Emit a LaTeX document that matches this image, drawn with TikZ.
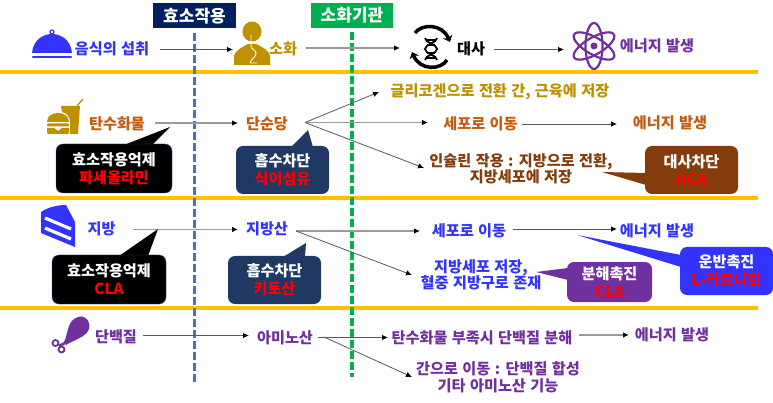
\documentclass[tikz,border=0pt]{standalone}
\usepackage{fontspec}
\usepackage{tikz}
\usetikzlibrary{arrows,arrows.meta}
\setmainfont{Noto Sans CJK KR}[WordSpace=1.25]
\definecolor{navybox}{HTML}{002060}
\definecolor{greenbox}{HTML}{00B050}
\definecolor{dashblue}{HTML}{4472C4}
\definecolor{ruleorange}{HTML}{FFC000}
\definecolor{textblue}{HTML}{3333FF}
\definecolor{textgold}{HTML}{BF9000}
\definecolor{textorange}{HTML}{C55A11}
\definecolor{textbrown}{HTML}{843C0C}
\definecolor{textpurple}{HTML}{7030A0}
\definecolor{notenavy}{HTML}{1F3864}
\definecolor{edgenavy}{HTML}{2F5597}

\begin{document}
\begin{tikzpicture}[x=1pt,y=-1pt]
	\useasboundingbox (0,0) rectangle (773,403);
	\tikzstyle{termtext}=[font=\bfseries\fontsize{15.2}{16.5}\selectfont,align=center,inner sep=0pt]
	\tikzstyle{header}=[font=\bfseries\fontsize{17}{18}\selectfont,text=white,inner sep=0pt,minimum height=25pt]
	\tikzstyle{note}=[font=\bfseries\fontsize{15.2}{18}\selectfont,text=white,align=center,rounded corners=7pt,inner sep=0pt]
	\tikzstyle{flow}=[draw=black!65,line width=0.8pt,-{Latex[length=6pt,width=5.5pt,black]}]
	\tikzstyle{flowlight}=[draw=black!40,line width=1.2pt,-{Latex[length=6pt,width=5.5pt,black]}]
	\tikzstyle{rule}=[draw=ruleorange,line width=3pt]
	\tikzstyle{ruleshade}=[draw=black!25,line width=1pt]

	%% Section rules
	\foreach \ypos/\rname in {72/ruleA,198/ruleB,307/ruleC}{
		\draw[ruleshade] (0,\ypos+2) -- (758,\ypos+2);
		\draw[rule] (0,\ypos) -- (758,\ypos);
	}

	%% Column headers and dashed lines
	\node[header,fill=navybox,minimum width=83pt] (enzyme) at (194.5,16) {효소작용};
	\node[header,fill=greenbox,minimum width=82pt] (organ) at (352,15.5) {소화기관};
	\coordinate (enzymeend) at (194.5,382);
	\coordinate (organend) at (352,377);
	\draw[dashblue,line width=3.2pt,dash pattern=on 8pt off 3pt] (194.5,33) -- (enzymeend);
	\draw[greenbox,line width=3.2pt,dash pattern=on 8pt off 3pt] (352,32) -- (organend);

	%% Row 1
	\node[termtext,text=textblue] (meal) at (112,49) {음식의 섭취};
	\node[termtext,text=textgold] (digest) at (283,49) {소화};
	\node[termtext,text=black] (metab) at (471,48.5) {대사};
	\node[termtext,text=textpurple] (energyA) at (657,46) {에너지 발생};
	\coordinate (mealout) at (160,49.5);
	\coordinate (bodyin) at (233,49.5);
	\coordinate (digestout) at (306,48);
	\coordinate (dnain) at (400,48);
	\coordinate (metabout) at (494,49.5);
	\coordinate (atomin) at (564,49.5);
	\draw[flow] (mealout) -- (bodyin);
	\draw[flowlight] (digestout) -- (dnain);
	\draw[flow] (metabout) -- (atomin);

	%% Row 2
	\node[termtext,text=textorange] (carb) at (117,124) {탄수화물};
	\node[termtext,text=textorange] (sugar) at (267,124) {단순당};
	\node[termtext,text=textgold] (glyco) at (500,92) {글리코겐으로 전환 간, 근육에 저장};
	\node[termtext,text=textorange] (cellA) at (480.5,124) {세포로 이동};
	\node[termtext,text=textorange] (energyB) at (670,123) {에너지 발생};
	\node[termtext,text=textbrown] (insulin) at (521,169) {인슐린 작용 : 지방으로 전환,\\지방세포에 저장};
	\coordinate (carbout) at (155,123);
	\coordinate (sugarin) at (238,123);
	\coordinate (sugarout) at (305,122.5);
	\coordinate (glycoin) at (379,92);
	\coordinate (cellAin) at (428,122.5);
	\coordinate (insulinin) at (424,168);
	\coordinate (cellAout) at (522,124);
	\coordinate (energyBin) at (617,124);
	\draw[flowlight] (carbout) -- (sugarin);
	\draw[flow] (sugarout) -- (glycoin);
	\draw[flowlight] (sugarout) -- (cellAin);
	\draw[flow] (sugarout) -- (insulinin);
	\draw[flow] (cellAout) -- (energyBin);

	%% Row 3
	\node[termtext,text=textblue] (fat) at (101.5,229) {지방};
	\node[termtext,text=textblue] (acid) at (267,229) {지방산};
	\node[termtext,text=textblue] (cellB) at (469,231) {세포로 이동};
	\node[termtext,text=textblue] (energyC) at (657,231) {에너지 발생};
	\node[termtext,text=textblue] (store) at (481,275) {지방세포 저장,\\혈중 지방구로 존재};
	\coordinate (fatout) at (133,229.5);
	\coordinate (acidin) at (238,229.5);
	\coordinate (acidout) at (296,231);
	\coordinate (cellBin) at (420,231);
	\coordinate (storein) at (412,275);
	\coordinate (cellBout) at (513,229);
	\coordinate (energyCin) at (617,229);
	\draw[flowlight] (fatout) -- (acidin);
	\draw[flowlight] (acidout) -- (cellBin);
	\draw[flow] (acidout) -- (storein);
	\draw[flow] (cellBout) -- (energyCin);

	%% Row 4
	\node[termtext,text=textpurple] (protein) at (116,337) {단백질};
	\node[termtext,text=textpurple] (amino) at (285,337.5) {아미노산};
	\node[termtext,text=textpurple] (split) at (482,338) {탄수화물 부족시 단백질 분해};
	\node[termtext,text=textpurple] (energyD) at (672,335) {에너지 발생};
	\node[termtext,text=textpurple] (liver) at (498,377.5) {간으로 이동 : 단백질 합성\\기타 아미노산 기능};
	\coordinate (proteinout) at (143,335.5);
	\coordinate (aminoin) at (249,335.5);
	\coordinate (aminoout) at (318,337.5);
	\coordinate (aminodown) at (324,337);
	\coordinate (splitin) at (388,337.5);
	\coordinate (liverin) at (412,377);
	\coordinate (splitout) at (579,335);
	\coordinate (energyDin) at (629,335);
	\draw[flow] (proteinout) -- (aminoin);
	\draw[flow] (aminoout) -- (splitin);
	\draw[flow] (aminodown) -- (liverin);
	\draw[flowlight] (splitout) -- (energyDin);

	%% Callouts
	\fill[black] (124,145) -- (170,127) -- (152,145) -- cycle;
	\node[note,fill=black,draw=edgenavy,minimum width=116pt,minimum height=49pt] (blockA) at (114,168.5) {효소작용억제\\\textcolor{red}{파세올라민}};
	\fill[notenavy] (291,147) -- (308,130) -- (313,147) -- cycle;
	\node[note,fill=notenavy,minimum width=93pt,minimum height=48pt] (absorbA) at (282.5,170) {흡수차단\\\textcolor{red}{식이섬유}};
	\fill[textbrown] (646,173) -- (602,172) -- (646,185) -- cycle;
	\node[note,fill=textbrown,minimum width=93pt,minimum height=48pt] (hca) at (691.5,170) {대사차단\\\textcolor{red}{HCA}};
	\fill[black] (119,256) -- (158,229) -- (148,256) -- cycle;
	\node[note,fill=black,draw=edgenavy,minimum width=114pt,minimum height=49pt] (blockB) at (109,279.5) {효소작용억제\\\textcolor{red}{CLA}};
	\fill[notenavy] (283,257) -- (306,243) -- (305,257) -- cycle;
	\node[note,fill=notenavy,minimum width=93pt,minimum height=48pt] (absorbB) at (274.5,280) {흡수차단\\\textcolor{red}{키토산}};
	\fill[textpurple] (568,268) -- (536,272) -- (568,280) -- cycle;
	\node[note,fill=textpurple,minimum width=85pt,minimum height=40pt] (lysis) at (609.5,282) {분해촉진\\\textcolor{red}{CLA}};
	\fill[textblue] (681,255) -- (577,235) -- (681,267) -- cycle;
	\node[note,fill=textblue,minimum width=93pt,minimum height=48pt] (carry) at (726.5,271) {운반촉진\\\textcolor{red}{L-카르니틴}};

	%% Cloche icon
	\fill[textblue] (32,53) .. controls (33,41) and (42,34) .. (52,34) .. controls (62,34) and (71,41) .. (72,53) -- cycle;
	\draw[textblue,line width=1.2pt] (52,32) circle (2pt);
	\draw[textblue,line width=2.5pt,line cap=round] (33,57) -- (71,57);

	%% Person icon
	\fill[textgold] (252,31.5) ellipse (9.5pt and 10pt);
	\fill[textgold] (234,65) -- (234,56) .. controls (235,50) and (243,47) .. (248,44) -- (256,44) .. controls (262,47) and (269,50) .. (270,56) -- (270,65) -- cycle;
	\draw[white,line width=0.9pt] (251,35) -- (251,46) .. controls (251,50) and (257,50) .. (256,54) .. controls (255,58) and (250,60) .. (250,63) -- (257,63);

	%% Cycle icon
	\draw[black,line width=3.5pt,-{Stealth[length=6pt,width=10pt]}] (415,33) .. controls (421,24) and (442,23) .. (450,42);
	\draw[black,line width=3.5pt,-{Stealth[length=6pt,width=10pt]}] (447,60) .. controls (441,70) and (420,71) .. (412,52);
	\draw[black,line width=1.8pt] (425,38) .. controls (425,43) and (437,44) .. (437,49) .. controls (437,54) and (425,55) .. (425,60);
	\draw[black,line width=1.8pt] (437,38) .. controls (437,43) and (425,44) .. (425,49) .. controls (425,54) and (437,55) .. (437,60);
	\foreach \rungy in {40,45,53,58}{
		\draw[black,line width=1.2pt] (427,\rungy) -- (435,\rungy);
	}

	%% Atom icon
	\foreach \tilt in {90,30,150}{
		\draw[textpurple,line width=2.2pt,rotate around={\tilt:(594,46)}] (594,46) ellipse (23pt and 8.5pt);
	}
	\fill[textpurple] (594,46) circle (3.5pt);

	%% Burger icon
	\fill[textgold] (61,106) -- (80,106) -- (78,134) -- (70,134) -- (70,122) .. controls (70,117) and (67,113) .. (62,112) -- cycle;
	\draw[textgold,line width=1.3pt,line cap=round] (77,106) -- (83,99);
	\fill[textgold] (47,122) .. controls (47,116) and (52,113) .. (58,113) .. controls (64,113) and (69,116) .. (69,122) -- cycle;
	\fill[textgold,rounded corners=1pt] (47,123.5) rectangle (69,126.5);
	\fill[textgold] (47,128) -- (54,128) -- (58,131) -- (62,128) -- (69,128) -- (69,132) .. controls (69,134) and (68,134) .. (67,134) -- (49,134) .. controls (48,134) and (47,134) .. (47,132) -- cycle;

	%% Cake icon
	\fill[textblue] (41,212) .. controls (48,207) and (58,205) .. (66,205) -- (75,222) -- (75,247) -- (41,233) -- cycle;
	\draw[white,line width=3.2pt] (45,218) -- (71,229);
	\draw[white,line width=3.2pt] (45,228) -- (71,239);

	%% Drumstick icon
	\fill[textpurple] (64,342) .. controls (68,335) and (67,320) .. (78,317) .. controls (87,314) and (92,325) .. (88,331) .. controls (85,337) and (74,340) .. (66,345) -- cycle;
	\draw[textpurple,line width=2.5pt] (67,342) -- (59,346);
	\draw[textpurple,line width=1.8pt,fill=white] (55.5,343) circle (3pt);
	\draw[textpurple,line width=1.8pt,fill=white] (61.5,349.5) circle (3pt);
\end{tikzpicture}
\end{document}
